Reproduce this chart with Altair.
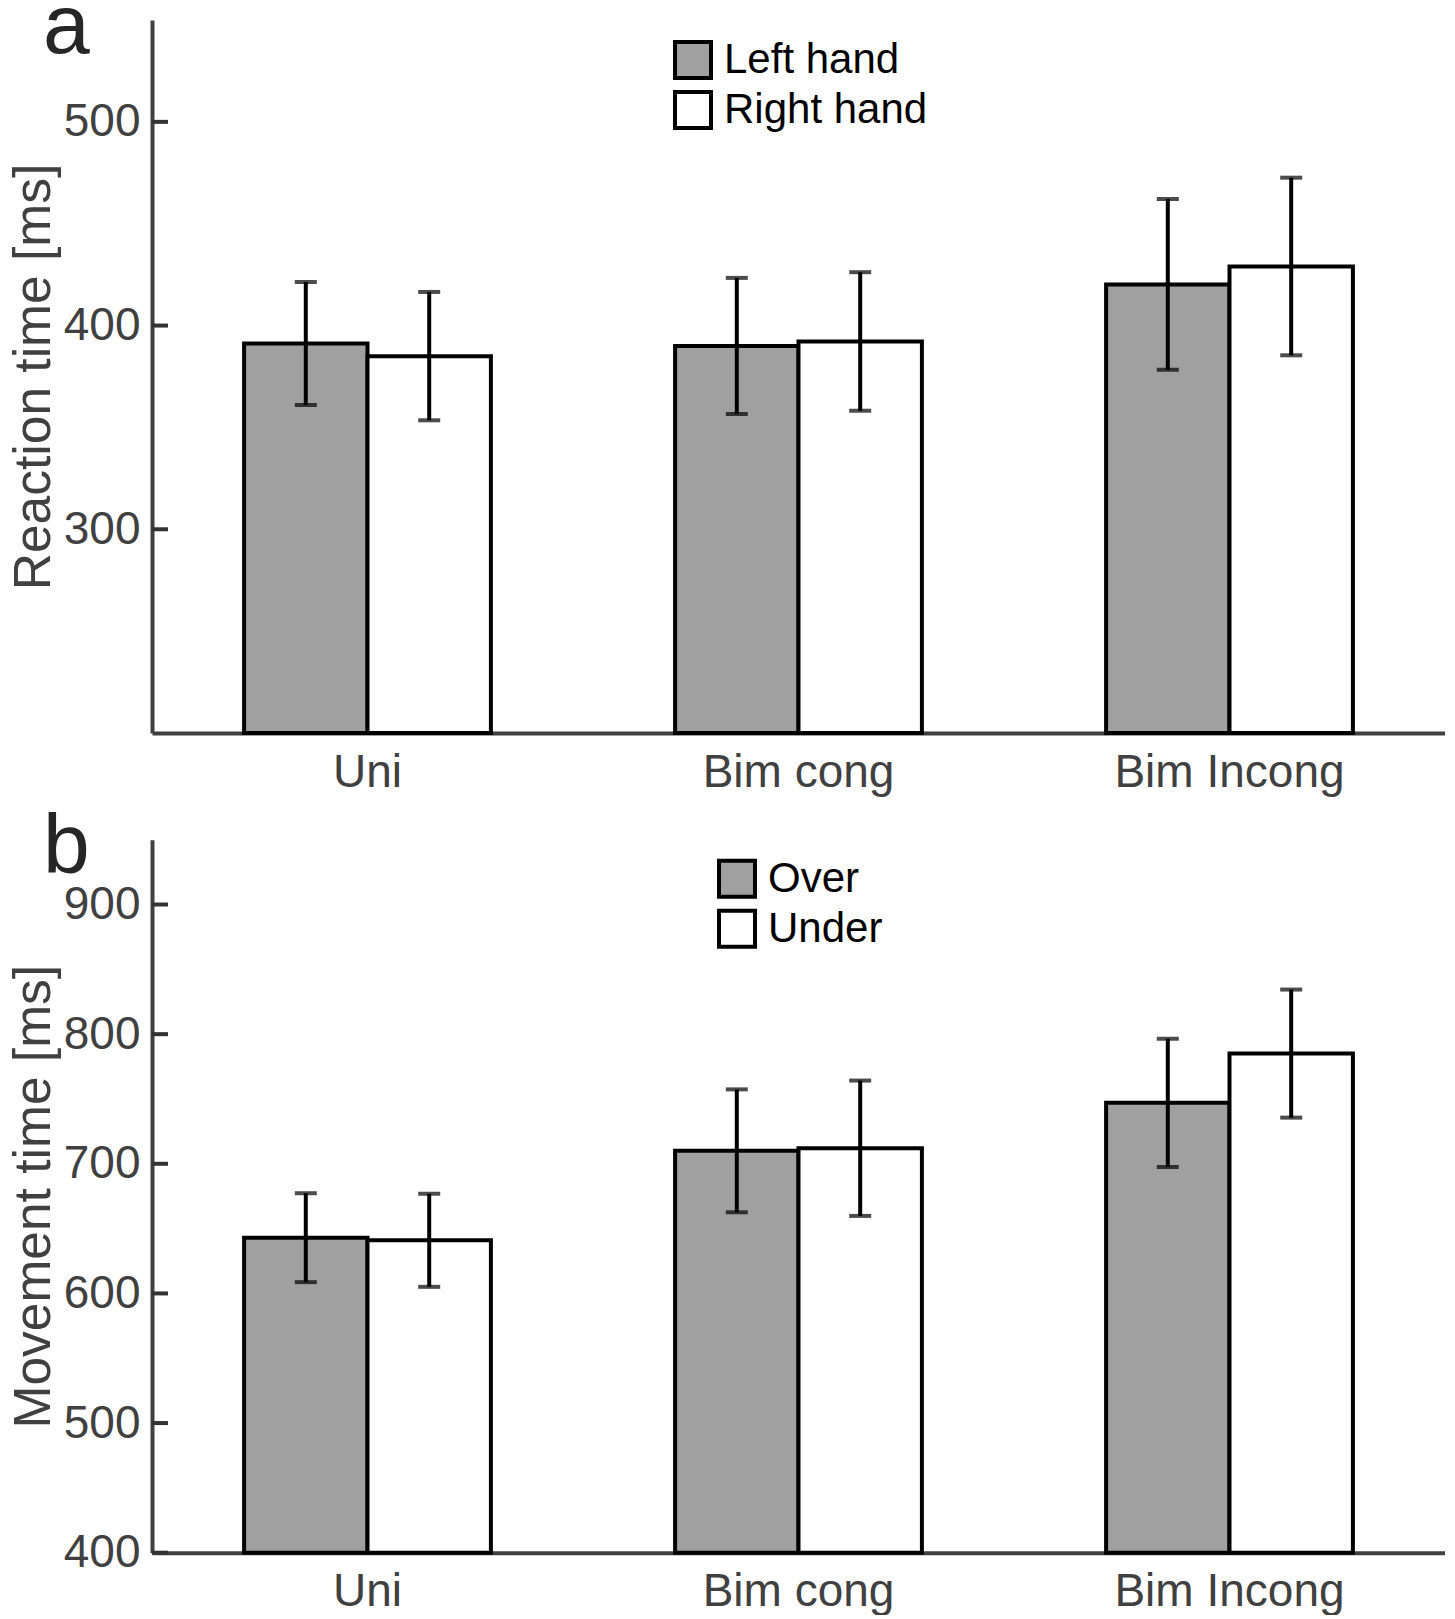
import altair as alt
import pandas as pd

# ---------------- data ----------------
categories = ["Uni", "Bim cong", "Bim Incong"]

rt_groups = ["Left hand", "Right hand"]
rt_left = [391.2, 390.0, 420.2]
rt_left_err = [30.2, 33.4, 41.9]
rt_right = [385.0, 392.2, 429.0]
rt_right_err = [31.5, 34.0, 43.6]

mt_groups = ["Over", "Under"]
mt_over = [643.0, 710.0, 747.0]
mt_over_err = [34.3, 47.4, 49.4]
mt_under = [641.0, 712.0, 785.0]
mt_under_err = [35.9, 52.2, 49.4]

rt_domain = [200, 550]
rt_ticks = [300, 400, 500]
mt_domain = [400, 950]
mt_ticks = [400, 500, 600, 700, 800, 900]

FONT = "Liberation Sans"
AXC = "#404040"
FILLS = ["#a0a0a0", "#ffffff"]

PLOT_W = 1293
PLOT_H = 713
BAR_W = 123.4          # pixel width of one bar
GROUP_SHIFT = [-BAR_W / 2, BAR_W / 2]


def make_df(groups, m1, e1, m2, e2):
    rows = []
    for g, means, errs in ((groups[0], m1, e1), (groups[1], m2, e2)):
        for c, m, e in zip(categories, means, errs):
            rows.append({"cond": c, "group": g, "mean": m, "lo": m - e, "hi": m + e})
    return pd.DataFrame(rows)


def panel(df, groups, ydomain, yticks, ytitle, letter, leg_x, leg_y):
    x = alt.X(
        "cond:N",
        sort=categories,
        scale=alt.Scale(type="band", paddingInner=0.427, paddingOuter=0.2135),
        axis=alt.Axis(
            title=None, labelAngle=0, ticks=False, tickSize=0, labelPadding=17,
            domainColor=AXC, domainWidth=4, labelFontSize=46, labelColor=AXC,
            labelFont=FONT, grid=False, labelLimit=500,
        ),
    )
    yscale = alt.Scale(domain=ydomain, zero=False, nice=False)
    yaxis = alt.Axis(
        title=ytitle, values=yticks, ticks=False, tickSize=0, labelPadding=12,
        titlePadding=3, titleFontSize=51.5, titleFont=FONT, titleFontWeight="normal",
        titleColor=AXC, labelFontSize=46, labelFont=FONT, labelColor=AXC,
        domainColor=AXC, domainWidth=4, grid=False,
    )
    fill = alt.Fill(
        "group:N",
        sort=groups,
        scale=alt.Scale(domain=groups, range=FILLS),
        legend=alt.Legend(
            title=None, orient="none", legendX=leg_x, legendY=leg_y,
            symbolType="square", symbolSize=1296, symbolStrokeWidth=4,
            symbolStrokeColor="black", labelFont=FONT, labelFontSize=42,
            labelColor="black", labelOffset=10, rowPadding=-2, padding=0,
            labelLimit=400,
        ),
    )

    layers = []
    for g, shift in zip(groups, GROUP_SHIFT):
        base = alt.Chart(df).transform_filter(alt.datum.group == g)
        layers.append(
            base.mark_bar(stroke="black", strokeWidth=4, width=BAR_W, xOffset=shift).encode(
                x=x,
                y=alt.Y("mean:Q", scale=yscale, axis=yaxis),
                y2=alt.datum(ydomain[0]),
                fill=fill,
            )
        )
    for g, shift in zip(groups, GROUP_SHIFT):
        base = alt.Chart(df).transform_filter(alt.datum.group == g)
        layers.append(
            base.mark_rule(color="black", strokeWidth=4, xOffset=shift).encode(
                x=x, y=alt.Y("lo:Q", scale=yscale, axis=yaxis), y2="hi:Q",
            )
        )
        for col in ("lo", "hi"):
            layers.append(
                base.mark_tick(color="black", thickness=4, size=22, xOffset=shift).encode(
                    x=x, y=alt.Y(f"{col}:Q", scale=yscale, axis=yaxis),
                )
            )

    # inward tick marks on the y axis
    tick_df = pd.DataFrame({"v": yticks})
    layers.append(
        alt.Chart(tick_df).mark_rule(color="#333333", strokeWidth=4).encode(
            y=alt.Y("v:Q", scale=yscale),
            x=alt.value(0), x2=alt.value(16),
        )
    )

    layers.append(
        alt.Chart(pd.DataFrame({"t": [letter]})).mark_text(
            align="left", baseline="alphabetic", fontSize=84, font=FONT, color="#262626"
        ).encode(text="t:N", x=alt.value(-109), y=alt.value(33))
    )

    return alt.layer(*layers).properties(width=PLOT_W, height=PLOT_H)


df_rt = make_df(rt_groups, rt_left, rt_left_err, rt_right, rt_right_err)
df_mt = make_df(mt_groups, mt_over, mt_over_err, mt_under, mt_under_err)

pa = panel(df_rt, rt_groups, rt_domain, rt_ticks, "Reaction time [ms]", "a", 520, 19)
pb = panel(df_mt, mt_groups, mt_domain, mt_ticks, "Movement time [ms]", "b", 564, 18)

chart = (
    alt.vconcat(pa, pb, spacing=106.7, bounds="flush")
    .resolve_scale(y="independent", fill="independent", x="independent")
    .resolve_legend(fill="independent")
    .properties(padding={"top": -22, "left": 0, "right": 0, "bottom": 0})
    .configure_view(strokeWidth=0, stroke=None)
)

chart.save("out.html", embed_options={"renderer": "svg", "actions": False})
